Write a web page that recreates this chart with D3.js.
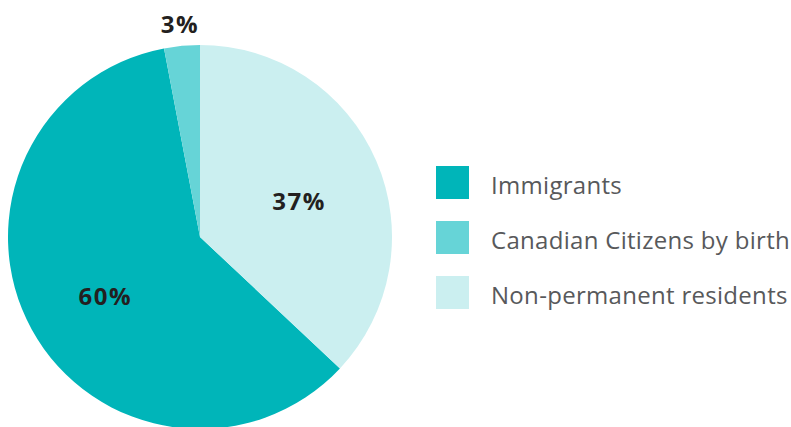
<!DOCTYPE html>
<html>
<head>
<meta charset="utf-8">
<script src="https://cdn.jsdelivr.net/npm/d3@7"></script>
<style>
  html, body { margin: 0; padding: 0; background: #fff; }
  svg { display: block; }
</style>
</head>
<body>
<div id="chart"></div>
<script>
const categories = ['Immigrants', 'Canadian Citizens by birth', 'Non-permanent residents'];
const values = [60, 3, 37];
const colors = ['#00b5b9', '#66d4d7', '#cbeff0'];

const width = 791, height = 427;
const cx = 200, cy = 237, radius = 192;

const svg = d3.select('#chart')
    .append('svg')
    .attr('width', width)
    .attr('height', height);

// immigrants start where the non-permanent slice ends (clockwise from 12 o'clock)
const offset = values[2] / d3.sum(values) * 2 * Math.PI;
const pie = d3.pie()
    .sort(null)
    .value(d => d)
    .startAngle(offset)
    .endAngle(offset + 2 * Math.PI);

const arcs = pie(values);
const arc = d3.arc().innerRadius(0).outerRadius(radius);
const labelArc = d3.arc().innerRadius(108).outerRadius(108);
const outerLabelArc = d3.arc().innerRadius(214).outerRadius(214);

const g = svg.append('g').attr('transform', `translate(${cx},${cy})`);

g.selectAll('path')
    .data(arcs)
    .enter()
    .append('path')
    .attr('fill', (d, i) => colors[i])
    .attr('d', arc);

g.selectAll('text')
    .data(arcs)
    .enter()
    .append('text')
    .attr('transform', d => {
        const small = d.value < 10;
        const c = (small ? outerLabelArc : labelArc).centroid(d);
        // inside labels sit a little below the centroid
        return `translate(${c[0]},${c[1] + (small ? 0 : 7)})`;
    })
    .attr('text-anchor', 'middle')
    .attr('dy', '0.36em')
    .style('font-family', '"Open Sans", "Noto Sans", sans-serif')
    .style('font-weight', 'bold')
    .style('font-size', '24px')
    .style('letter-spacing', '1.5px')
    .attr('fill', '#231f20')
    .text(d => d.value + '%');

// legend
const legend = svg.append('g').attr('transform', 'translate(436,166)');
const item = legend.selectAll('g')
    .data(categories)
    .enter()
    .append('g')
    .attr('transform', (d, i) => `translate(0,${i * 55})`);

item.append('rect')
    .attr('width', 33)
    .attr('height', 33)
    .attr('fill', (d, i) => colors[i]);

item.append('text')
    .attr('x', 55)
    .attr('y', 28)
    .style('font-family', '"Open Sans", "Noto Sans", sans-serif')
    .style('font-size', '24px')
    .style('letter-spacing', '0.3px')
    .attr('fill', '#58595b')
    .text(d => d);
</script>
</body>
</html>
